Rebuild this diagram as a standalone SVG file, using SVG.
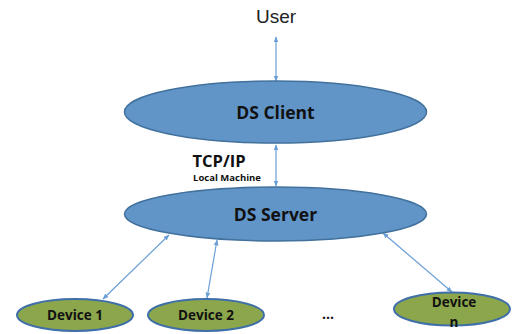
<svg xmlns="http://www.w3.org/2000/svg" width="514" height="334" viewBox="0 0 514 334">
<defs>
<style>
.big{fill:#6195c8;stroke:#41719c;stroke-width:1.5}
.dev{fill:#8ca64c;stroke:#3f6fa8;stroke-width:2}
.lbl{font-family:"Open Sans",Lato,sans-serif;font-weight:bold;fill:#111;text-anchor:middle}
.con{stroke:#6a9fd6;stroke-width:1.2;fill:none;marker-start:url(#ah);marker-end:url(#ah)}
</style>
<marker id="ah" viewBox="0 0 10 10" refX="9" refY="5" markerWidth="6" markerHeight="6" orient="auto-start-reverse" markerUnits="userSpaceOnUse">
<path d="M0,1 L10,5 L0,9 z" fill="#6a9fd6"/>
</marker>
</defs>
<rect width="514" height="334" fill="#fff"/>
<g id="user"><text x="276" y="23" font-family="Liberation Sans,Arial,sans-serif" font-size="19" fill="#222" text-anchor="middle">User</text></g>
<g id="connectors">
<line class="con" x1="276" y1="37" x2="276" y2="81"/>
<line class="con" x1="276" y1="145" x2="276" y2="186"/>
<line class="con" x1="169" y1="235" x2="103" y2="299"/>
<line class="con" x1="217" y1="240" x2="207" y2="298"/>
<line class="con" x1="383" y1="233" x2="452" y2="292"/>
</g>
<g id="ds-client"><ellipse class="big" cx="275.5" cy="112" rx="151" ry="31"/><text class="lbl" x="275.5" y="119" font-size="17.5">DS Client</text></g>
<g id="tcp-label"><text class="lbl" x="219" y="167" font-size="16.5">TCP/IP</text><text class="lbl" x="227" y="181" font-size="9.5">Local Machine</text></g>
<g id="ds-server"><ellipse class="big" cx="275.5" cy="214" rx="151" ry="27"/><text class="lbl" x="275.5" y="221" font-size="17.5">DS Server</text></g>
<g id="device-1"><ellipse class="dev" cx="75" cy="315" rx="58" ry="16"/><text class="lbl" x="75" y="320" font-size="13.5">Device 1</text></g>
<g id="device-2"><ellipse class="dev" cx="206" cy="315" rx="58" ry="16"/><text class="lbl" x="206" y="320" font-size="13.5">Device 2</text></g>
<g id="ellipsis"><text class="lbl" x="328" y="319" font-size="14">...</text></g>
<g id="device-n"><ellipse class="dev" cx="452" cy="309" rx="58" ry="16.5"/><text class="lbl" x="454" y="307" font-size="13.5">Device</text><text class="lbl" x="454" y="327" font-size="13.5">n</text></g>
</svg>
